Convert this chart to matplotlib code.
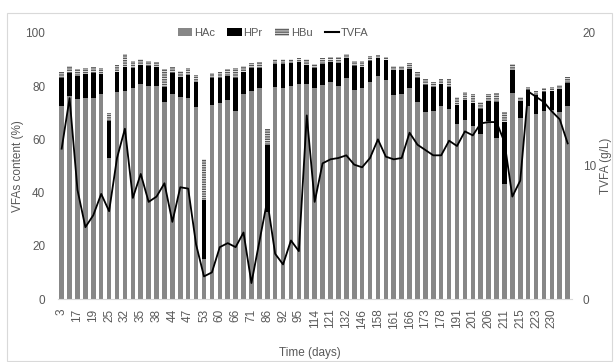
import numpy as np
import matplotlib
matplotlib.use("Agg")
import matplotlib.pyplot as plt
from matplotlib.patches import Patch, Rectangle
from matplotlib.lines import Line2D

plt.rcParams['font.family'] = ['Liberation Sans Narrow', 'Liberation Sans', 'DejaVu Sans']
plt.rcParams['hatch.linewidth'] = 1.0

# sampling days (every other sample is labelled on the axis)
day_labels = ["3", "17", "19", "25", "32", "35", "38", "44", "47", "53", "60", "66",
              "71", "86", "92", "95", "114", "121", "132", "146", "158", "161", "166",
              "173", "178", "191", "201", "206", "211", "215", "223", "230"]

# VFA composition (%)
hac = [72.7, 76.3, 75.2, 75.4, 75.7, 77.1, 52.9, 77.7, 78.3, 79.4, 80.7, 80.2, 80.1,
       74.2, 77.1, 76.1, 75.4, 72.1, 15.0, 72.9, 73.6, 74.8, 70.7, 76.9, 78.3, 79.4,
       32.8, 79.8, 79.4, 80.2, 80.7, 80.8, 79.4, 80.5, 81.5, 80.2, 83.0, 78.6, 79.4,
       81.7, 84.0, 82.3, 76.7, 76.9, 79.4, 73.9, 70.2, 70.7, 72.7, 71.4, 65.8, 67.4,
       65.2, 62.0, 66.8, 60.4, 43.1, 77.3, 67.9, 72.7, 69.4, 70.7, 71.0, 70.4, 72.7]
hpr = [10.5, 8.8, 8.8, 9.1, 9.1, 7.4, 14.0, 7.8, 8.8, 7.6, 7.3, 7.4, 7.2,
       5.4, 7.7, 7.5, 8.8, 9.6, 22.2, 10.1, 9.6, 9.2, 12.5, 8.6, 8.4, 7.6,
       25.1, 8.4, 8.8, 8.4, 8.3, 7.2, 7.3, 7.8, 7.7, 8.6, 7.7, 9.1, 7.7,
       7.8, 6.5, 7.5, 9.4, 9.2, 7.1, 9.3, 10.3, 8.9, 8.0, 8.2, 7.1, 7.4,
       8.4, 9.4, 7.6, 13.8, 23.6, 8.8, 6.5, 5.9, 7.3, 7.2, 7.3, 8.5, 8.5]
hbu = [2.3, 2.5, 2.3, 2.2, 2.4, 2.5, 2.9, 2.5, 5.0, 2.5, 2.1, 1.9, 1.7,
       6.7, 2.3, 2.1, 2.5, 2.5, 15.4, 2.1, 2.3, 2.3, 3.5, 2.2, 2.1, 2.0,
       5.9, 2.0, 1.9, 1.6, 1.7, 2.1, 1.6, 2.3, 1.9, 2.2, 1.5, 1.8, 2.4,
       2.0, 1.1, 1.2, 1.6, 1.6, 2.1, 2.0, 2.2, 2.1, 2.0, 3.0, 3.2, 3.1,
       3.3, 2.5, 2.5, 3.1, 3.5, 2.2, 1.5, 1.1, 1.5, 1.3, 1.4, 1.6, 2.1]

# total VFA concentration (g/L)
tvfa = [11.3, 15.1, 8.2, 5.4, 6.3, 7.9, 6.6, 10.6, 12.8, 7.6, 9.4, 7.3, 7.7,
        8.7, 5.8, 8.4, 8.3, 4.1, 1.7, 2.0, 3.9, 4.2, 3.9, 5.0, 1.2, 4.3,
        7.4, 3.4, 2.6, 4.4, 3.6, 13.8, 7.3, 10.2, 10.5, 10.6, 10.8, 10.1, 9.9,
        10.6, 12.0, 10.7, 10.5, 10.6, 12.5, 11.6, 11.2, 10.8, 10.8, 11.9, 11.5, 12.6,
        12.3, 13.2, 13.3, 13.3, 11.8, 7.7, 8.9, 15.6, 15.2, 14.8, 14.1, 13.5, 11.7]

txt = '#595959'
grey = '#878787'
stripe = '#5a5a5a'
x = np.arange(len(hac))
hac = np.array(hac)
hpr = np.array(hpr)
hbu = np.array(hbu)

fig = plt.figure(figsize=(6.14, 3.62), dpi=100)
ax = fig.add_axes([0.094, 0.174, 0.837, 0.735])

w = 0.58
ax.bar(x, hac, width=w, color=grey, linewidth=0)
ax.bar(x, hpr, width=w, bottom=hac, color='black', linewidth=0)
ax.bar(x, hbu, width=w, bottom=hac + hpr, facecolor='#e6e6e6', edgecolor=stripe,
       hatch='-------', linewidth=0)

ax.set_xlim(-0.5, len(hac) - 0.5)
ax.set_ylim(0, 100)
ax.set_yticks([0, 20, 40, 60, 80, 100])
ax.set_xticks(x[::2][:len(day_labels)])
ax.set_xticklabels(day_labels, rotation=90)
ax.tick_params(axis='y', length=0, pad=9, labelsize=8.5, labelcolor=txt)
ax.tick_params(axis='x', length=0, pad=7, labelsize=8.5, labelcolor=txt)
for s in ['top', 'left', 'right']:
    ax.spines[s].set_visible(False)
ax.spines['bottom'].set_color('#d9d9d9')

ax2 = ax.twinx()
ax2.plot(x, tvfa, color='black', linewidth=1.3)
ax2.set_ylim(0, 20)
ax2.set_yticks([0, 10, 20])
ax2.tick_params(axis='y', length=0, pad=8, labelsize=8.5, labelcolor=txt)
for s in ax2.spines.values():
    s.set_visible(False)

# axis titles
fig.text(18 / 614, 0.541, 'VFAs content (%)', rotation=90, ha='center', va='center',
         fontsize=8.5, color=txt)
fig.text(606 / 614, 0.541, 'TVFA (g/L)', rotation=90, ha='center', va='center',
         fontsize=8.5, color=txt)
fig.text(0.505, 1 - 353 / 362, 'Time (days)', ha='center', va='center',
         fontsize=8.5, color=txt)

handles = [Patch(facecolor=grey, linewidth=0),
           Patch(facecolor='black', linewidth=0),
           Patch(facecolor='#e6e6e6', edgecolor=stripe, hatch='-------', linewidth=0),
           Line2D([], [], color='black', linewidth=1.5)]
fig.legend(handles, ['HAc', 'HPr', 'HBu', 'TVFA'], loc='center',
           bbox_to_anchor=(0.445, 0.909), ncol=4, frameon=False, fontsize=8,
           labelcolor=txt, handlelength=1.3, handleheight=0.8, handletextpad=0.15,
           columnspacing=1.1)

# light chart border
fig.add_artist(Rectangle((7 / 614, 0.003), 605 / 614, 0.96, transform=fig.transFigure,
                         fill=False, edgecolor='#d9d9d9', linewidth=0.8))

fig.savefig('out.png', dpi=100)
